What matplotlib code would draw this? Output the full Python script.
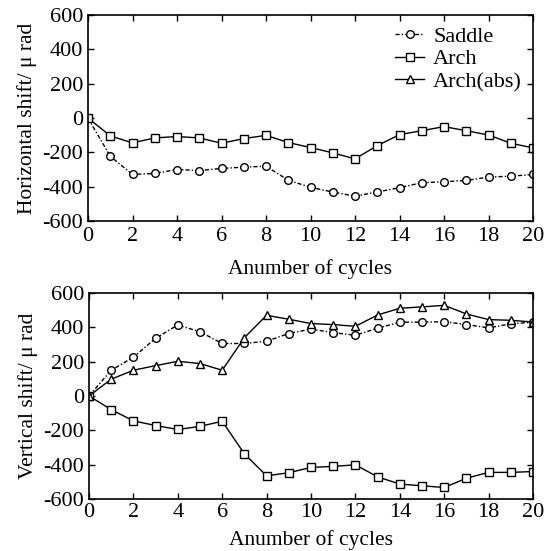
import numpy as np
import matplotlib.pyplot as plt

plt.rcParams['font.family'] = ['Liberation Serif', 'DejaVu Serif']

cycles = np.arange(0, 21)

# horizontal shift
h_saddle = [0, -223, -329, -323, -300, -306, -294, -286, -281, -362, -404,
            -431, -455, -431, -406, -377, -371, -364, -344, -339, -329]
h_arch = [0, -104, -145, -116, -108, -116, -147, -120, -101, -143, -172,
          -203, -238, -161, -97, -74, -50, -74, -99, -147, -174]

# vertical shift
v_saddle = [0, 150, 226, 336, 414, 374, 306, 306, 319, 364, 390,
            369, 354, 395, 430, 430, 433, 416, 397, 420, 430]
v_arch = [0, -79, -145, -172, -195, -177, -147, -337, -465, -447, -416,
          -410, -401, -471, -513, -523, -533, -479, -445, -445, -440]
v_arch_abs = [0, 98, 150, 177, 202, 189, 150, 340, 470, 447, 422,
              416, 406, 472, 511, 519, 528, 478, 445, 441, 431]

fig = plt.figure(figsize=(5.56, 5.51), dpi=100)
ax1 = fig.add_axes([88/556, 1-221/551, 445/556, 206/551])
ax2 = fig.add_axes([89/556, 1-499/551, 444/556, 206/551])

mk = dict(markersize=5.5, markerfacecolor='white', markeredgecolor='black',
          markeredgewidth=1.0, color='black', linewidth=1.0)
dashdot = (0, (3, 1.5, 1, 1.5))

ax1.plot(cycles, h_saddle, linestyle=dashdot, marker='o', label='Saddle', **mk)
ax1.plot(cycles, h_arch, linestyle='-', marker='s', label='Arch', **mk)
ax1.plot([], [], linestyle='-', marker='^', label='Arch(abs)', **mk)

ax2.plot(cycles, v_saddle, linestyle=dashdot, marker='o', **mk)
ax2.plot(cycles, v_arch, linestyle='-', marker='s', **mk)
ax2.plot(cycles, v_arch_abs, linestyle='-', marker='^', **mk)

for ax, ylab, xpad, lpad in [(ax1, 'Horizontal shift/ μ rad', 4.5, 9),
                             (ax2, 'Vertical shift/ μ rad', 3, 6)]:
    ax.set_xlim(0, 20)
    ax.set_ylim(-600, 600)
    ax.set_xticks(range(0, 21, 2))
    ax.set_yticks(range(-600, 601, 200))
    ax.set_yticklabels(['-600', '-400', '-200', '0', '200', '400', '600'])
    ax.tick_params(direction='in', top=True, right=True, labelsize=16,
                   length=4, width=1)
    ax.tick_params(axis='y', pad=3.5)
    ax.tick_params(axis='x', pad=xpad)
    ax.set_xlabel('Anumber of cycles', fontsize=15.5, labelpad=lpad)
    ax.set_ylabel(ylab, fontsize=15.5, labelpad=4)
    for s in ax.spines.values():
        s.set_linewidth(1.2)

ax1.legend(loc='upper right', frameon=False, fontsize=16, handlelength=1.3,
           handletextpad=0.4, labelspacing=0.1, borderaxespad=0.1)

plt.savefig('out.png', dpi=100)
